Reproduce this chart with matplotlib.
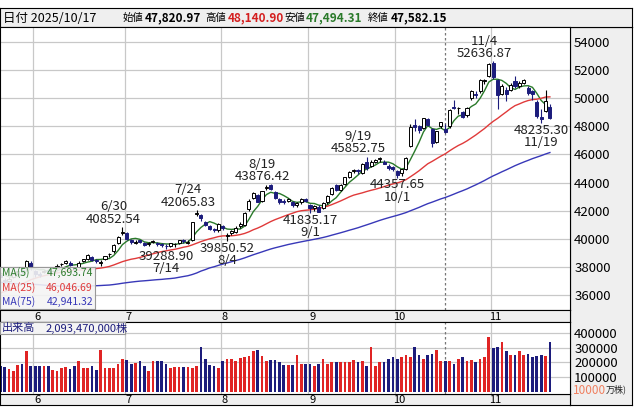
"""
Nikkei 225 daily candles with moving averages and volume (May - Nov 2025).
"""

import numpy as np
import pandas as pd
import matplotlib
matplotlib.use("Agg")
import matplotlib.pyplot as plt
from matplotlib.patches import Rectangle

plt.rcParams["font.family"] = ["Noto Sans CJK JP", "DejaVu Sans"]

W, H = 635, 408

# closes before the visible window (for the 25/75 day averages)
prior_closes = [
    39414, 39513, 39572, 38520,
    38798, 38831, 39066, 38787, 38801, 39963, 39461, 39149, 39174, 39270,
    38678, 38678, 38776, 38237, 38142, 37256, 37155,
    37785, 37331, 37418, 37704, 36887, 37028, 36793, 36819, 36790, 37053,
    37396, 37845, 37751, 37677, 37608, 38027, 37027, 37799, 37120, 35617,
    35624, 35725, 34735, 33780, 31136, 33012, 31714, 34609, 33585, 33982,
    34267, 33920, 34377, 34730, 34279, 34220, 34868, 35039, 35705, 35839, 36045,
    36452, 36830, 36779, 36928, 37503, 37644, 38183, 38128, 37755, 37753,
    37498, 37529,
]

dates = [
    "5/21", "5/22", "5/23", "5/26", "5/27", "5/28", "5/29", "5/30",
    "6/2", "6/3", "6/4", "6/5", "6/6", "6/9", "6/10", "6/11", "6/12", "6/13",
    "6/16", "6/17", "6/18", "6/19", "6/20", "6/23", "6/24", "6/25", "6/26", "6/27", "6/30",
    "7/1", "7/2", "7/3", "7/4", "7/7", "7/8", "7/9", "7/10", "7/11", "7/14", "7/15",
    "7/16", "7/17", "7/18", "7/22", "7/23", "7/24", "7/25", "7/28", "7/29", "7/30", "7/31",
    "8/1", "8/4", "8/5", "8/6", "8/7", "8/8", "8/12", "8/13", "8/14", "8/15", "8/18",
    "8/19", "8/20", "8/21", "8/22", "8/25", "8/26", "8/27", "8/28", "8/29",
    "9/1", "9/2", "9/3", "9/4", "9/5", "9/8", "9/9", "9/10", "9/11", "9/12", "9/16",
    "9/17", "9/18", "9/19", "9/22", "9/24", "9/25", "9/26", "9/29", "9/30",
    "10/1", "10/2", "10/3", "10/6", "10/7", "10/8", "10/9", "10/10", "10/14", "10/15",
    "10/16", "10/17", "10/20", "10/21", "10/22", "10/23", "10/24", "10/27", "10/28",
    "10/29", "10/30", "10/31",
    "11/4", "11/5", "11/6", "11/7", "11/10", "11/11", "11/12", "11/13", "11/14",
    "11/17", "11/18", "11/19", "11/20", "11/21",
]

opens = [
    37400, 37100, 37000, 37300, 37500, 37800, 37900, 38300,
    37700, 37500, 37650, 37800, 37600, 37900, 38200, 38300, 38300, 37900,
    38000, 38400, 38600, 38700, 38500, 38300, 38600, 38900, 39100, 39700, 40400,
    40400, 39900, 39700, 39900, 39700, 39600, 39800, 39700, 39600, 39500, 39500,
    39600, 39700, 39900, 39700, 39900, 41800, 41700, 41200, 40900, 40700, 40600,
    40900, 40200, 40400, 40500, 40900, 41000, 42100, 42900, 43100, 42700, 43600,
    43800, 43300, 42800, 42700, 42700, 42600, 42400, 42600, 42800,
    42400, 42200, 42300, 42200, 42600, 43200, 43800, 43500, 43900, 44400, 44800,
    44900, 44700, 45500, 45200, 45500, 45700, 45500, 45200, 45100,
    44800, 44700, 45000, 46600, 48100, 48000, 47900, 48500, 47800, 46900,
    48000, 47820.97, 48000, 49400, 49300, 49000, 48800, 50000, 50300,
    50500, 51200, 51600,
    52500, 51300, 50300, 50600, 50600, 51200, 50900, 51100, 50700,
    50500, 49700, 48700, 49100, 49400,
]
highs = [
    37600, 37200, 37300, 37600, 37800, 37900, 38500, 38400,
    37800, 37650, 37800, 37850, 37800, 38200, 38300, 38500, 38400, 38000,
    38400, 38600, 38900, 38800, 38600, 38500, 38800, 39000, 39600, 40200, 40852.54,
    40500, 40000, 39900, 39950, 39800, 39800, 39900, 39800, 39700, 39600, 39700,
    39700, 39950, 40000, 39900, 41200, 42065.83, 41800, 41300, 41000, 40800, 41100,
    41000, 40400, 40600, 40900, 41200, 41900, 42800, 43300, 43200, 43400, 43800,
    43876.42, 43400, 42900, 42800, 42900, 42700, 42600, 42900, 42900,
    42500, 42400, 42400, 42600, 43100, 43700, 43900, 43900, 44400, 44800, 45000,
    45000, 45400, 45852.75, 45600, 45700, 45800, 45600, 45300, 45200,
    44900, 45000, 45800, 48200, 48500, 48100, 48600, 48600, 47900, 47700,
    48300, 48140.90, 49200, 49900, 49400, 49100, 49400, 50600, 50500,
    51400, 51400, 52500,
    52636.87, 51400, 51000, 50800, 51100, 51550, 51250, 51400, 50850,
    50600, 49900, 49200, 50600, 49600,
]
lows = [
    37200, 36860, 36900, 37250, 37400, 37600, 37800, 37800,
    37300, 37300, 37550, 37500, 37500, 37850, 38050, 38200, 38100, 37600,
    37900, 38350, 38500, 38400, 38300, 38100, 38500, 38700, 39000, 39600, 40300,
    39900, 39600, 39600, 39700, 39500, 39500, 39700, 39500, 39400, 39288.90, 39400,
    39400, 39600, 39700, 39600, 39850, 41600, 41300, 40900, 40600, 40500, 40500,
    40600, 39850.52, 40300, 40400, 40800, 40900, 42000, 42800, 42600, 42600, 43500,
    43500, 42800, 42500, 42500, 42600, 42300, 42300, 42500, 42600,
    41835.17, 42000, 41900, 42100, 42500, 43100, 43400, 43400, 43800, 44300, 44700,
    44600, 44600, 44900, 45100, 45400, 45500, 45300, 44900, 44800,
    44357.65, 44500, 44900, 46500, 47700, 47500, 47800, 48000, 46500, 46800,
    47900, 47494.31, 47900, 49200, 48900, 48600, 48700, 49900, 50000,
    50400, 51000, 51500,
    51400, 49200, 50200, 49800, 50500, 50700, 50700, 51000, 50200,
    49900, 48600, 48235.30, 49000, 48500,
]
closes = [
    37299, 36986, 37160, 37531, 37724, 37722, 38432, 37965,
    37470, 37446, 37747, 37554, 37741, 38088, 38211, 38421, 38173, 37834,
    38311, 38536, 38885, 38488, 38403, 38354, 38790, 38942, 39584, 40150, 40487,
    39986, 39762, 39785, 39810, 39587, 39688, 39821, 39646, 39569, 39459, 39678,
    39663, 39901, 39819, 39774, 41171, 41826, 41456, 40998, 40674, 40654, 41069,
    40799, 40290, 40549, 40794, 41059, 41820, 42718, 43274, 42649, 43378, 43714,
    43546, 42888, 42610, 42633, 42807, 42394, 42520, 42829, 42718,
    42188, 42310, 41938, 42580, 43018, 43643, 43459, 43837, 44372, 44768, 44902,
    44790, 45303, 45045, 45493, 45630, 45754, 45354, 45043, 44932,
    44550, 44936, 45769, 47944, 47950, 47734, 48580, 48088, 46847, 47672,
    48277, 47582.15, 49185, 49316, 49307, 48641, 49299, 50512, 50219,
    51307, 51325, 52411,
    51497, 50212, 50883, 50276, 50912, 50842, 51063, 51281, 50376,
    50323, 48702, 48537, 49823, 48625,
]
# volume in 10,000 shares
volumes = [
    173000, 168000, 155000, 139000, 184000, 191000, 275000, 173000, 173000,
    173000, 173000, 173000, 150000, 145000, 161000, 168000, 157000, 173000,
    211000, 166000, 166000, 173000, 150000, 284000, 166000, 166000, 166000,
    191000, 225000, 214000, 191000, 195000, 207000, 173000, 145000, 207000,
    207000, 207000, 191000, 161000, 168000, 168000, 168000, 168000, 161000,
    173000, 302000, 225000, 184000, 177000, 161000, 207000, 223000, 225000,
    207000, 230000, 236000, 241000, 275000, 282000, 245000, 211000, 218000,
    214000, 200000, 184000, 182000, 182000, 250000, 191000,
    189000, 189000, 177000, 189000, 223000, 189000, 200000, 200000, 205000,
    200000, 200000, 218000, 205000, 211000, 177000, 307000, 177000, 200000,
    200000, 223000, 234000, 227000, 234000, 252000, 234000, 307000, 252000,
    227000, 252000, 257000, 284000, 211000, 211000, 211000, 189000, 223000,
    234000, 211000, 218000, 200000, 227000, 234000, 375000, 295000, 307000,
    336000, 280000, 250000, 250000, 280000, 250000, 261000, 234000, 245000,
    250000, 245000, 336000,
]

highlights_hi = [28, 45, 62, 84, 113]
highlights_lo = [38, 52, 71, 91, 124]
cursor_date = "10/17"

UP_EDGE = "black"
DOWN = "#1c1c7c"
VOL_UP = "#e02424"
GRID = "#c8c8c8"
PANEL = "#efefef"


def rect(x0, y0, x1, y1):
    return [x0 / W, 1 - y1 / H, (x1 - x0) / W, (y1 - y0) / H]


def ftext(x, y, s, **kw):
    fig.text(x / W, 1 - y / H, s, **kw)


n = len(closes)
x = np.arange(n)
all_close = pd.Series(prior_closes + closes)
ma5 = all_close.rolling(5).mean().values[-n:]
ma25 = all_close.rolling(25).mean().values[-n:]
ma75 = all_close.rolling(75).mean().values[-n:]

months = [d.split("/")[0] for d in dates]
month_starts = [i for i in range(1, n) if months[i] != months[i - 1]]
cursor = dates.index(cursor_date)

x_lo = (0 - 0.29) / 4.362
x_hi = (570 - 0.29) / 4.362

fig = plt.figure(figsize=(W / 100, H / 100), dpi=100)
fig.patch.set_facecolor("white")

# right side panel and header
side = fig.add_axes(rect(570, 27, 632, 405))
side.set_facecolor(PANEL)
side.set_xticks([])
side.set_yticks([])

head = fig.add_axes(rect(0, 8, 632, 27))
head.set_facecolor(PANEL)
head.set_xticks([])
head.set_yticks([])

# main price axes
ax = fig.add_axes(rect(0, 27, 570, 310))
ax.set_xlim(x_lo, x_hi)
ax.set_ylim(34939, 55067)
ax.set_yticks(range(36000, 55000, 2000))
ax.yaxis.tick_right()
ax.tick_params(axis="y", length=0, pad=3, labelsize=9.5)
ax.set_xticks([])
ax.grid(False)
for y in range(36000, 55000, 2000):
    ax.axhline(y, color=GRID, lw=0.9, zorder=0)
for m in month_starts:
    ax.axvline(m - 0.5, color=GRID, lw=0.9, zorder=0)
ax.axvline(cursor, color="#777777", lw=0.9, ls=(0, (2, 2)), zorder=1)

for i in range(n):
    o, h, l, c = opens[i], highs[i], lows[i], closes[i]
    up = c >= o
    ax.vlines(i, l, h, color="black" if up else DOWN, lw=0.8, zorder=3)
    body_lo, body_hi = min(o, c), max(o, c)
    ax.add_patch(Rectangle((i - 0.35, body_lo), 0.7, max(body_hi - body_lo, 15),
                           facecolor="white" if up else DOWN,
                           edgecolor=UP_EDGE if up else DOWN, lw=0.7, zorder=4))

ax.plot(x, ma5, color="#2a7a2a", lw=1, zorder=2)
ax.plot(x, ma25, color="#e03a3a", lw=1, zorder=2)
ax.plot(x, ma75, color="#3838b8", lw=1, zorder=2)

for i in highlights_hi:
    ax.text(i - 2, highs[i] + 80, f"{dates[i]}\n{highs[i]:.2f}", ha="center",
            va="bottom", fontsize=9.5, color="#222222", linespacing=0.95, zorder=5)
for i in highlights_lo:
    ax.text(i, lows[i] - 60, f"{lows[i]:.2f}\n{dates[i]}", ha="center",
            va="top", fontsize=9.5, color="#222222", linespacing=0.95, zorder=5)
for s in ax.spines.values():
    s.set_color("black")

# MA legend box
ax_leg = fig.add_axes(rect(0, 267, 95, 309))
ax_leg.set_facecolor("#f4f4f4")
ax_leg.patch.set_alpha(0.9)
ax_leg.set_xticks([])
ax_leg.set_yticks([])
for s in ax_leg.spines.values():
    s.set_color("#999999")
for yy, name, val, col in [(273, "MA(5)", "47,693.74", "#2a7a2a"),
                           (288, "MA(25)", "46,046.69", "#e03a3a"),
                           (302, "MA(75)", "42,941.32", "#3838b8")]:
    ftext(2, yy, name, fontsize=7.5, color=col, va="center")
    ftext(93, yy, val, fontsize=7.5, color=col, va="center", ha="right")

# month label strips
for y0, y1 in [(310, 322), (394, 405)]:
    st = fig.add_axes(rect(0, y0, 570, y1))
    st.set_facecolor(PANEL)
    st.set_xlim(x_lo, x_hi)
    st.set_ylim(0, 1)
    st.set_xticks([])
    st.set_yticks([])
    for m in month_starts:
        st.text(m + 0.5, 0.45, months[m], ha="center", va="center", fontsize=8)

# volume axes
av = fig.add_axes(rect(0, 322, 570, 394))
av.set_xlim(x_lo, x_hi)
av.set_ylim(-13600, 474600)
av.set_xticks([])
av.set_yticks([100000, 200000, 300000, 400000])
av.yaxis.tick_right()
av.tick_params(axis="y", length=0, pad=3, labelsize=9.5)
for y in [100000, 200000, 300000, 400000]:
    av.axhline(y, color=GRID, lw=0.9, zorder=0)
for m in month_starts:
    av.axvline(m - 0.5, color=GRID, lw=0.9, zorder=0)
av.axvline(cursor, color="#777777", lw=0.9, ls=(0, (2, 2)), zorder=1)
vol_cols = [VOL_UP if closes[i] >= opens[i] else DOWN for i in range(n)]
av.bar(x, volumes, width=0.62, color=vol_cols, zorder=2)
ftext(573, 391, "10000", fontsize=8.5, color="#f08060", va="center")
ftext(606, 389, "万株)", fontsize=6.5, color="#222222", va="center")

ax_vh = fig.add_axes(rect(0, 322, 125, 334))
ax_vh.set_facecolor("#f4f4f4")
ax_vh.set_xticks([])
ax_vh.set_yticks([])
for s in ax_vh.spines.values():
    s.set_color("#999999")
ftext(2, 328, "出来高", fontsize=8, color="#1c1c7c", va="center")
ftext(46, 328, "2,093,470,000株", fontsize=8, color="#1c1c7c", va="center")

# header line
ftext(3, 18, "日付 2025/10/17", fontsize=9, va="center")
for xx, s, col, bold in [(123, "始値", "black", False), (145, "47,820.97", "black", True),
                         (205, "高値", "black", False), (228, "48,140.90", "#d42020", True),
                         (284, "安値", "black", False), (306, "47,494.31", "#2a7a2a", True),
                         (368, "終値", "black", False), (391, "47,582.15", "black", True)]:
    ftext(xx, 18, s, fontsize=7.5 if not bold else 8.5, color=col, va="center",
          fontweight="bold" if bold else "normal")

fig.savefig("out.png", dpi=100)
